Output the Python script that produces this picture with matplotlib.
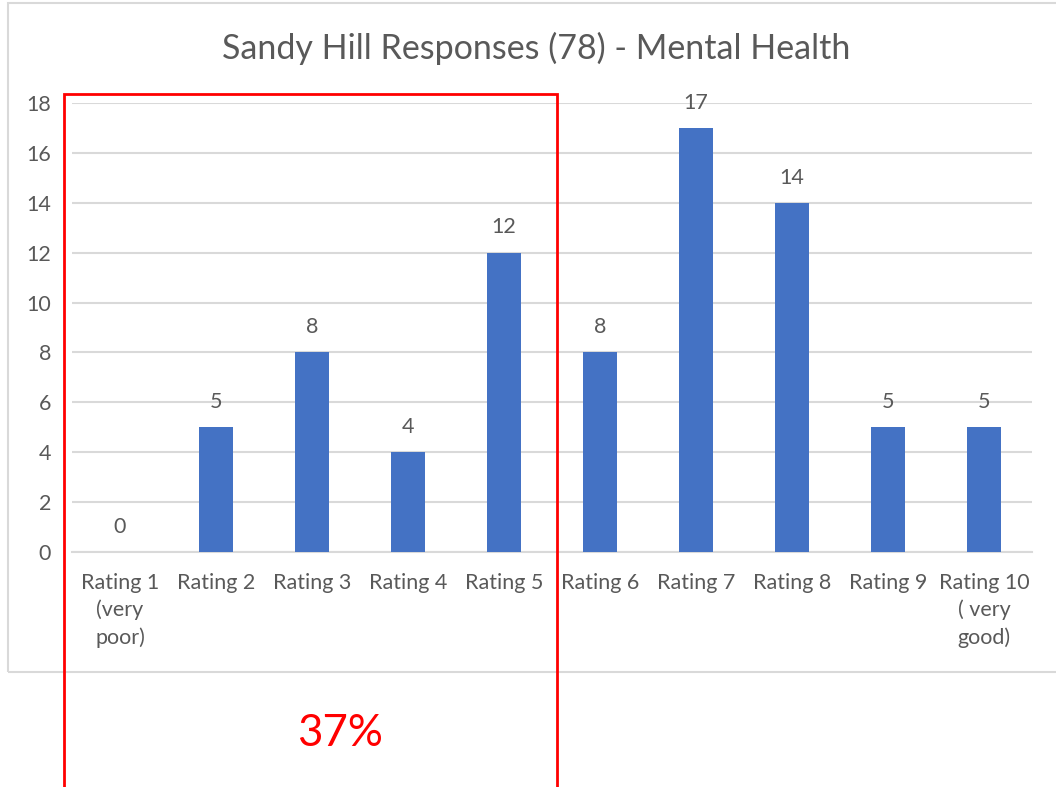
import matplotlib.pyplot as plt
from matplotlib.patches import Rectangle

plt.rcParams['font.family'] = ['Lato', 'DejaVu Sans']

categories = ["Rating 1\n(very\npoor)", "Rating 2", "Rating 3", "Rating 4", "Rating 5",
              "Rating 6", "Rating 7", "Rating 8", "Rating 9", "Rating 10\n( very\ngood)"]
counts = [0, 5, 8, 4, 12, 8, 17, 14, 5, 5]
yticks = [0, 2, 4, 6, 8, 10, 12, 14, 16, 18]
title = "Sandy Hill Responses (78) - Mental Health"
share_text = "37%"

W, H = 1056, 787
BAR = "#4472c4"
TXT = "#595959"
GRID = "#d9d9d9"
FS = 15.5

fig = plt.figure(figsize=(W / 100, H / 100), dpi=100)

# chart outline (cut off at the right edge like the screenshot)
fig.patches.append(Rectangle((8 / W, 1 - 672 / H), 1.2, (672 - 3) / H,
                             transform=fig.transFigure, fill=False,
                             edgecolor=GRID, linewidth=1.5))

ax = fig.add_axes([72 / W, 1 - 552 / H, (1032 - 72) / W, (552 - 103) / H])
x = range(len(categories))
ax.bar(x, counts, width=0.36, color=BAR, zorder=3)
for xi, v in zip(x, counts):
    ax.annotate(str(v), (xi, v), xytext=(0, 11), textcoords="offset points",
                ha="center", va="bottom", fontsize=FS, color=TXT)

ax.set_xlim(-0.5, len(categories) - 0.5)
ax.set_ylim(0, 18)
ax.set_yticks(yticks)
ax.set_xticks(list(x))
ax.set_xticklabels(categories, fontsize=FS, color=TXT, linespacing=1.42, va="top")
ax.tick_params(axis="y", length=0, pad=15, labelsize=FS, labelcolor=TXT)
ax.tick_params(axis="x", length=0, pad=15)
ax.grid(axis="y", color=GRID, linewidth=1.5, zorder=0)
for s in ["top", "right", "left"]:
    ax.spines[s].set_visible(False)
ax.spines["bottom"].set_color(GRID)
ax.spines["bottom"].set_linewidth(1.5)

fig.text(536 / W, 1 - 48 / H, title, ha="center", va="center", fontsize=24.5, color=TXT)

# red highlight box over ratings 1-5
fig.patches.append(Rectangle((64 / W, -0.05), (557 - 64) / W, 0.05 + 1 - 94 / H,
                             transform=fig.transFigure, fill=False,
                             edgecolor="#ff0000", linewidth=2))
fig.text(340 / W, 1 - 733 / H, share_text, ha="center", va="center",
         fontsize=31.5, color="#ff0000")

fig.savefig("out.png", dpi=100)
